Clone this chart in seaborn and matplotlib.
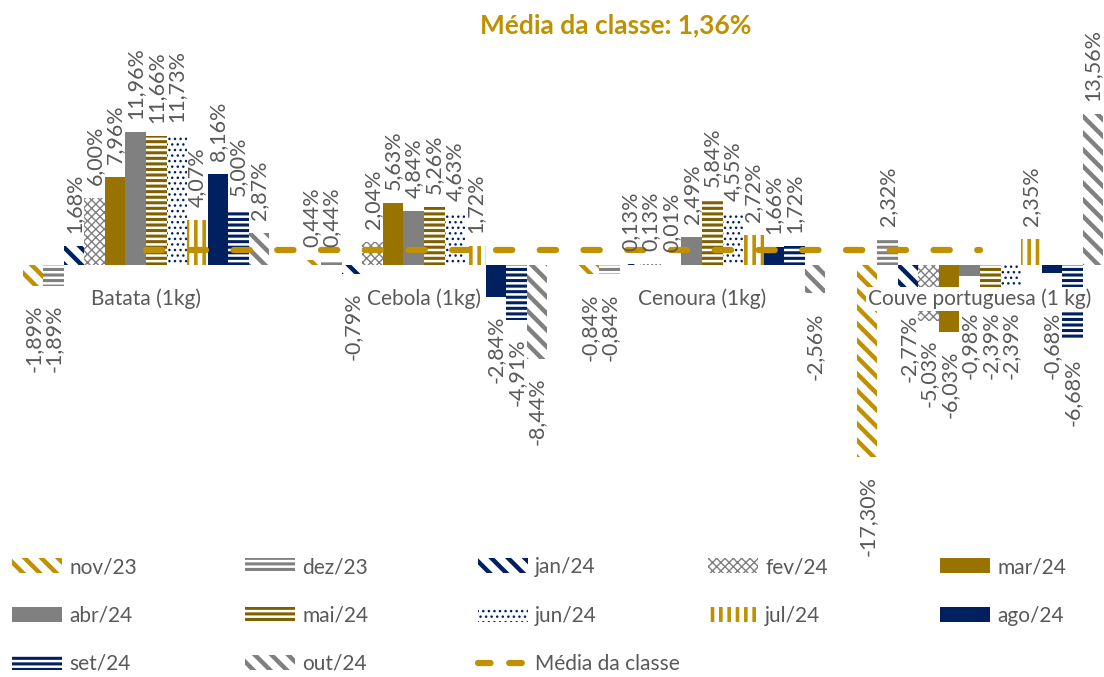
import matplotlib
matplotlib.use("Agg")
import matplotlib.pyplot as plt
import matplotlib.patches as mpatches
from matplotlib.lines import Line2D
import seaborn as sns
import pandas as pd

# ---------------- data ----------------
categories = ["Batata (1kg)", "Cebola (1kg)", "Cenoura (1kg)", "Couve portuguesa (1 kg)"]
months = ["nov/23", "dez/23", "jan/24", "fev/24", "mar/24", "abr/24",
          "mai/24", "jun/24", "jul/24", "ago/24", "set/24", "out/24"]
batata = [-1.89, -1.89, 1.68, 6.00, 7.96, 11.96, 11.66, 11.73, 4.07, 8.16, 5.00, 2.87]
cebola = [0.44, 0.44, -0.79, 2.04, 5.63, 4.84, 5.26, 4.63, 1.72, -2.84, -4.91, -8.44]
cenoura = [-0.84, -0.84, 0.13, 0.13, 0.01, 2.49, 5.84, 4.55, 2.72, 1.66, 1.72, -2.56]
couve = [-17.30, 2.32, -2.77, -5.03, -6.03, -0.98, -2.39, -2.39, 2.35, -0.68, -6.68, 13.56]
media_classe = 1.36
media_label = "Média da classe"

# ---------------- styles ----------------
GOLD = "#BF9000"
GRAY = "#808080"
NAVY = "#002060"
BROWN = "#997300"
DBROWN = "#7F6000"
TXT = "#595959"
# face, hatch colour, hatch, hatch linewidth
styles = [
    ("white", GOLD, "\\\\", 3.2),
    ("white", GRAY, "---", 2.2),
    ("white", NAVY, "\\\\", 3.2),
    ("white", GRAY, "xxxx", 1.0),
    (BROWN, BROWN, "", 0.0),
    (GRAY, GRAY, "", 0.0),
    ("white", DBROWN, "---", 2.2),
    ("white", NAVY, "...", 1.0),
    ("white", GOLD, "||", 2.6),
    (NAVY, NAVY, "", 0.0),
    ("white", NAVY, "---", 2.2),
    ("white", GRAY, "\\\\", 3.2),
]

plt.rcParams["font.family"] = ["Lato", "DejaVu Sans"]

series = [batata, cebola, cenoura, couve]
rows = []
for c, vals in zip(categories, series):
    for m, v in zip(months, vals):
        rows.append({"cat": c, "mes": m, "val": v})
df = pd.DataFrame(rows)

W, H = 1104, 677
DPI = 100
fig = plt.figure(figsize=(W / DPI, H / DPI), dpi=DPI)
zero_px = 265
px_per = 11.1
top_px, bot_px = 35, 545
left_px = 7
right_px = 1104
ymax = (zero_px - top_px) / px_per
ymin = -(bot_px - zero_px) / px_per
cat_px = 278.0
xmin = -0.5
xmax = -0.5 + (right_px - left_px) / cat_px
ax = fig.add_axes([left_px / W, 1 - bot_px / H, (right_px - left_px) / W, (bot_px - top_px) / H])

sns.barplot(data=df, x="cat", y="val", hue="mes", order=categories, hue_order=months,
            palette=["white"] * len(months), width=0.885, errorbar=None, legend=False,
            ax=ax, saturation=1)


def set_hlw(p, hlw):
    if hasattr(p, "set_hatch_linewidth"):
        p.set_hatch_linewidth(hlw)
    else:
        p._hatch_linewidth = hlw


def style_patch(p, st):
    face, hc, hatch, hlw = st
    p.set_facecolor(face)
    p.set_edgecolor(hc)
    p.set_linewidth(0)
    if hatch:
        p.set_hatch(hatch)
        set_hlw(p, hlw)


for cont, st in zip(ax.containers, styles):
    for p in cont:
        style_patch(p, st)

ax.plot(range(len(categories)), [media_classe] * len(categories), color=GOLD, lw=4.5,
        dashes=(2.6, 4.4), dash_capstyle="round", zorder=5)

ax.set_xlim(xmin, xmax)
ax.set_ylim(ymin, ymax)
ax.set_xlabel("")
ax.set_ylabel("")
ax.set_yticks([])
for s in ["top", "right", "left"]:
    ax.spines[s].set_visible(False)
ax.spines["bottom"].set_position(("data", 0))
ax.spines["bottom"].set_color("none")
ax.set_axisbelow(False)
ax.tick_params(axis="x", length=0, pad=17, labelsize=15, labelcolor=TXT)
for t in ax.get_xticklabels():
    t.set_bbox(dict(facecolor="white", edgecolor="none", pad=1.5))
ax.xaxis.set_zorder(4)
ax.patch.set_visible(False)

# value labels (Excel style: negative labels pushed below the category label)
fig.canvas.draw()
renderer = fig.canvas.get_renderer()
cat_boxes = [t.get_window_extent(renderer) for t in ax.get_xticklabels()]
POS_PAD_PX = 13
NEG_PAD_PX = 19
for cont, m in zip(ax.containers, months):
    mi = months.index(m)
    for ci, p in enumerate(cont):
        v = series[ci][mi]
        lab = f"{v:.2f}%".replace(".", ",")
        xc = p.get_x() + p.get_width() / 2
        if v >= 0:
            ax.annotate(lab, (xc, v), xytext=(0, POS_PAD_PX * 72 / DPI), textcoords="offset points",
                        rotation=90, ha="center", va="bottom", color=TXT, fontsize=15.5, zorder=6)
        else:
            xd, yd = ax.transData.transform((xc, v))
            top = yd - NEG_PAD_PX
            for bb in cat_boxes:
                if xd + 9 > bb.x0 and xd - 9 < bb.x1 and top > bb.y0 - 2:
                    top = bb.y0 - 2
            ax.annotate(lab, (xc, v), xytext=(0, (top - yd) * 72 / DPI), textcoords="offset points",
                        rotation=90, ha="center", va="top", color=TXT, fontsize=15.5, zorder=6)

fig.text(616 / W, 1 - 25 / H, f"{media_label}: {media_classe:.2f}%".replace(".", ","),
         ha="center", va="center", fontsize=19, fontweight="bold", color=GOLD)

# legend: one entry per slot to mimic Excel's even grid
col_x = [12, 245, 478, 708, 940]
row_y = [567, 616, 664]
entries = []
for m, st in zip(months, styles):
    face, hc, hatch, hlw = st
    h = mpatches.Patch(facecolor=face, edgecolor=hc, hatch=hatch, linewidth=0)
    entries.append((h, m, hlw))
entries.append((Line2D([], [], color=GOLD, lw=4.5, dashes=(2.0, 3.0),
                       dash_capstyle="round"), media_label, None))
for k, (h, lab, hlw) in enumerate(entries):
    r, c = divmod(k, 5)
    leg = fig.legend(handles=[h], labels=[lab], loc="center left",
                     bbox_to_anchor=(col_x[c] / W, 1 - row_y[r] / H), frameon=False,
                     borderpad=0, borderaxespad=0, handlelength=2.4, handleheight=0.7,
                     handletextpad=0.35, fontsize=15, labelcolor=TXT)
    if hlw:
        for lp in leg.get_patches():
            set_hlw(lp, hlw)

fig.savefig("out.png", dpi=DPI)
